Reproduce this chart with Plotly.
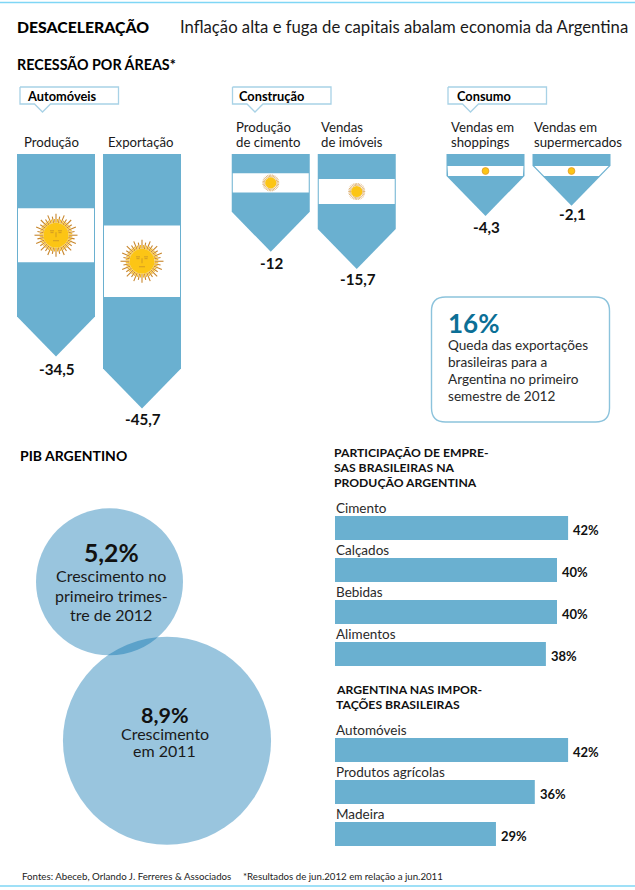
import math
import plotly.graph_objects as go

# ---------- data ----------
recession_groups = ["Automóveis", "Construção", "Consumo"]
recession_labels = [["Produção"], ["Exportação"], ["Produção", "de cimento"], ["Vendas", "de imóveis"],
                    ["Vendas em", "shoppings"], ["Vendas em", "supermercados"]]
recession_group_idx = [0, 0, 1, 1, 2, 2]
recession_values = [-34.5, -45.7, -12, -15.7, -4.3, -2.1]
recession_texts = ["-34,5", "-45,7", "-12", "-15,7", "-4,3", "-2,1"]

gdp_values = [5.2, 8.9]
gdp_texts = ["5,2%", "8,9%"]
gdp_captions = [["Crescimento no", "primeiro trimes-", "tre de 2012"], ["Crescimento", "em 2011"]]

share_categories = ["Cimento", "Calçados", "Bebidas", "Alimentos"]
share_values = [42, 40, 40, 38]
imports_categories = ["Automóveis", "Produtos agrícolas", "Madeira"]
imports_values = [42, 36, 29]

callout_value = "16%"
callout_lines = ["Queda das exportações", "brasileiras para a", "Argentina no primeiro", "semestre de 2012"]

# ---------- style ----------
W, H = 635, 890
BLUE = "#6ab0d0"
RULE = "#7fd6f5"
BOX = "#a8d2e6"
FONT = "Lato"
TXT = "#111111"
PX_PER_UNIT = 4.65      # pennant scale
Y0 = 156                # page pixel of value 0
PEN_W = 78
TIP = 40
PX_PER_PCT = 5.55
BAR_X0 = 335
LABEL_DX = [-5, -2, -35, -36, -35, -38]
VALUE_DY = [13, 10, 11, 10, 11, 8]

fig = go.Figure()


def note(text, x, y, size=14, bold=False, color=TXT, xanchor="left", xref="x", yref="y",
         xshift=0, yshift=0, font=FONT, weight=None):
    f = dict(family=font, size=size, color=color)
    if weight:
        f["weight"] = weight
    elif bold:
        f["weight"] = 700
    fig.add_annotation(text=text, x=x, y=y, xref=xref, yref=yref,
                       xanchor=xanchor, yanchor="middle", showarrow=False, xshift=xshift, yshift=yshift,
                       font=f, borderpad=0, borderwidth=0)


def to_y2(px):
    """page pixel -> pennant axis value"""
    return (Y0 - px) / PX_PER_UNIT


def sun(cx, cy, outer, inner):
    """sun emblem, in page pixels, centred on a flag band"""
    ax = []
    ay = []
    bx = []
    by = []
    n = 32
    if outer > 12:
        for i in range(n):
            a = 2 * math.pi * i / n
            r = outer if i % 2 == 0 else outer * 0.88
            ax += [cx + inner * math.cos(a), cx + r * math.cos(a), None]
            ay += [to_y2(cy + inner * math.sin(a)), to_y2(cy + r * math.sin(a)), None]
            a2 = a + math.pi / n
            bx += [cx + inner * math.cos(a2), cx + outer * 0.76 * math.cos(a2), None]
            by += [to_y2(cy + inner * math.sin(a2)), to_y2(cy + outer * 0.76 * math.sin(a2)), None]
        fig.add_trace(go.Scatter(x=ax, y=ay, yaxis="y2", mode="lines", hoverinfo="skip",
                                 line=dict(color="#c8862b", width=1.1)))
        fig.add_trace(go.Scatter(x=bx, y=by, yaxis="y2", mode="lines", hoverinfo="skip",
                                 line=dict(color="#f6b91c", width=1.1)))
    elif outer > 6:
        for i in range(n):
            a = 2 * math.pi * i / n
            ax += [cx + inner * math.cos(a), cx + outer * math.cos(a), None]
            ay += [to_y2(cy + inner * math.sin(a)), to_y2(cy + outer * math.sin(a)), None]
        fig.add_trace(go.Scatter(x=ax, y=ay, yaxis="y2", mode="lines", hoverinfo="skip",
                                 line=dict(color="#d9a55a", width=0.8)))
    fig.add_trace(go.Scatter(x=[cx], y=[to_y2(cy)], yaxis="y2", mode="markers", hoverinfo="skip",
                             marker=dict(size=inner * 2, color="#fcc515",
                                         line=dict(width=0.8 if outer <= 6 else 0, color="#e09a2a"))))
    if outer > 12:
        fx, fy = [], []
        for sx in (-1, 1):
            fx += [cx + sx * 2.0, cx + sx * 6.0, None, cx + sx * 2.5, cx + sx * 5.5, None]
            fy += [to_y2(cy - 4.4), to_y2(cy - 4.4), None, to_y2(cy - 2.6), to_y2(cy - 2.6), None]
        fx += [cx - 3, cx + 3, None, cx, cx, None]
        fy += [to_y2(cy + 5.5), to_y2(cy + 5.5), None, to_y2(cy - 3), to_y2(cy + 2), None]
        fig.add_trace(go.Scatter(x=fx, y=fy, yaxis="y2", mode="lines", hoverinfo="skip",
                                 line=dict(color="#c08a2a", width=0.7)))


# ---------- rules ----------
for ry in (2.5, 886):
    fig.add_shape(type="line", xref="x", yref="y", x0=0, x1=W, y0=ry, y1=ry,
                  line=dict(color=RULE, width=1.5), layer="above")

# ---------- headings ----------
note("DESACELERAÇÃO", 17, 26, size=15.8, weight=900, color="#000000")
note("Inflação alta e fuga de capitais abalam economia da Argentina", 180, 27, size=16.7, color="#1a1a1a")
note("RECESSÃO POR ÁREAS*", 17, 63.5, size=14.3, bold=True, color="#000000")
note("PIB ARGENTINO", 20, 455, size=14, bold=True, color="#000000")

# ---------- group callouts ----------
for g, name in enumerate(recession_groups):
    left = [20, 232.5, 448][g]
    tip = left + 22.5
    bx = [left, left + 98.5, left + 98.5, tip + 8, tip, tip - 8, left, left]
    by = [87, 87, 104, 104, 112, 104, 104, 87]
    fig.add_trace(go.Scatter(x=bx, y=by, mode="lines", fill="toself", fillcolor="white", hoverinfo="skip",
                             line=dict(color=BOX, width=1.3)))
    note(name, left + [7, 6, 9][g], 96, size=12.8, bold=True, color="#000000")

# ---------- pennants ----------
for i, v in enumerate(recession_values):
    g = recession_group_idx[i]
    cx = 56 + 86 * i + 42.75 * g
    half = PEN_W / 2
    body_end = v
    tip_v = v - TIP / PX_PER_UNIT
    top = to_y2(154)
    fig.add_trace(go.Scatter(x=[cx - half, cx + half, cx + half, cx, cx - half, cx - half],
                             y=[top, top, body_end, tip_v, body_end, top],
                             yaxis="y2", mode="lines", fill="toself", fillcolor=BLUE,
                             line=dict(width=0, color=BLUE), hoverinfo="skip"))
    # white flag band: the middle third, kept legible on short pennants
    body_px = -v * PX_PER_UNIT + 2
    band_top = 154 + max(body_px / 3, 12)
    band_h = max(body_px / 3, 10)
    band_bot = band_top + band_h
    body_end_px = Y0 - v * PX_PER_UNIT
    tip_px = body_end_px + TIP

    def hw(py):
        return min(half - 1, (half * (tip_px - py) / TIP) - 1.6)

    px_pts = [band_top, band_bot]
    if band_top < body_end_px < band_bot:
        px_pts = [band_top, body_end_px, band_bot]
    xs = [cx - hw(p) for p in px_pts] + [cx + hw(p) for p in reversed(px_pts)]
    ys = [to_y2(p) for p in px_pts] + [to_y2(p) for p in reversed(px_pts)]
    fig.add_trace(go.Scatter(x=xs + xs[:1], y=ys + ys[:1], yaxis="y2", mode="lines", fill="toself",
                             fillcolor="white", line=dict(width=0, color="white"), hoverinfo="skip"))
    scy = (band_top + band_bot) / 2
    if band_h > 40:
        sun(cx, scy, 21.5, 12.5)
    elif band_h > 15:
        sun(cx, scy, 8.5, 5.6)
    else:
        sun(cx, scy, 4, 3.4)
    # texts
    note(recession_texts[i], cx + 1, to_y2(tip_px + VALUE_DY[i]), size=15.2, bold=True, xanchor="center", yref="y2")
    lines = recession_labels[i]
    for k, t in enumerate(reversed(lines)):
        if len(lines) > 1:
            note(t, cx + LABEL_DX[i], 142 - 15.5 * k, size=13.2, color="#1a1a1a")
        else:
            note(t, cx + LABEL_DX[i], 142, size=13.2, color="#1a1a1a", xanchor="center")

# ---------- 16% box ----------
x0, x1, y0, y1, r = 431.5, 609.5, 297, 422, 14
fig.add_shape(type="path", xref="x", yref="y",
              path=f"M {x0+r} {y0} L {x1-r} {y0} Q {x1} {y0} {x1} {y0+r} L {x1} {y1-r} Q {x1} {y1} {x1-r} {y1} "
                   f"L {x0+r} {y1} Q {x0} {y1} {x0} {y1-r} L {x0} {y0+r} Q {x0} {y0} {x0+r} {y0} Z",
              line=dict(color="#8cc3dc", width=1.4), fillcolor="rgba(0,0,0,0)")
note(callout_value, 448, 323, size=26, bold=True, color="#0c6f96")
for k, t in enumerate(callout_lines):
    note(t, 447.5, 345 + 17 * k, size=13.6, color="#2a2a2a")

# ---------- GDP circles ----------
gdp_x = [109.5, 167]
gdp_y = [581.8, 740.8]
gdp_size = [147 * (v / gdp_values[0]) ** 0.647 for v in gdp_values]
fig.add_trace(go.Scatter(x=gdp_x, y=gdp_y, mode="markers", hoverinfo="skip",
                         marker=dict(size=gdp_size, sizemode="diameter", color="rgb(0,110,172)", opacity=0.4,
                                     line=dict(width=0))))
note(gdp_texts[0], 111, 552.5, size=24.7, bold=True, xanchor="center")
for k, t in enumerate(gdp_captions[0]):
    note(t, 111, [575, 595, 614][k], size=16, xanchor="center", color="#1a1a1a")
note(gdp_texts[1], 164.5, 715, size=21.5, bold=True, xanchor="center")
for k, t in enumerate(gdp_captions[1]):
    note(t, 164.5, 733 + 17.7 * k, size=16, xanchor="center", color="#1a1a1a")


# ---------- bars ----------
def bars(cats, vals, yaxis, yref):
    fig.add_trace(go.Bar(x=vals, y=cats, orientation="h", xaxis="x2", yaxis=yaxis, width=24 / 42,
                         marker=dict(color=BLUE, line=dict(width=0)), hoverinfo="skip"))
    for c, v in zip(cats, vals):
        note(c, 0, c, xref="x2", yref=yref, size=13.5, color="#2a2a2a", xshift=1, yshift=20.5)
        note(f"{v}%", v, c, xref="x2", yref=yref, size=13, bold=True, xshift=5, yshift=-2)


bars(share_categories, share_values, "y3", "y3")
bars(imports_categories, imports_values, "y4", "y4")

for k, t in enumerate(["PARTICIPAÇÃO DE EMPRE-", "SAS BRASILEIRAS NA", "PRODUÇÃO ARGENTINA"]):
    note(t, 334, 452 + 15 * k, size=12.2, bold=True, color="#111111")
for k, t in enumerate(["ARGENTINA NAS IMPOR-", "TAÇÕES BRASILEIRAS"]):
    note(t, 336, 689 + 15 * k, size=12.2, bold=True, color="#111111")

# ---------- footer ----------
note("Fontes: Abeceb, Orlando J. Ferreres & Associados", 22, 876, size=9.7, color="#222222")
note("*Resultados de jun.2012 em relação a jun.2011", 243, 876, size=9.7, color="#222222")

# ---------- layout ----------
hidden = dict(visible=False, fixedrange=True, showgrid=False, zeroline=False)
fig.update_layout(
    width=W, height=H, margin=dict(l=0, r=0, t=0, b=0, pad=0), showlegend=False,
    paper_bgcolor="white", plot_bgcolor="rgba(0,0,0,0)", barmode="overlay",
    xaxis=dict(hidden, range=[0, W], domain=[0, 1]),
    yaxis=dict(hidden, range=[H, 0], domain=[0, 1]),
    yaxis2=dict(hidden, range=[to_y2(H), to_y2(0)], domain=[0, 1], anchor="x", overlaying="y"),
    xaxis2=dict(hidden, range=[-BAR_X0 / PX_PER_PCT, (W - BAR_X0) / PX_PER_PCT], domain=[0, 1], anchor="y3"),
    yaxis3=dict(hidden, type="category", categoryorder="array", categoryarray=share_categories,
                autorange=False, range=[3.5, -0.5], domain=[1 - 675 / H, 1 - 507 / H], anchor="x2"),
    yaxis4=dict(hidden, type="category", categoryorder="array", categoryarray=imports_categories,
                autorange=False, range=[2.5, -0.5], domain=[1 - 855 / H, 1 - 729 / H], anchor="x2"),
)
fig.write_html("out.html", config={"displayModeBar": False},
               post_script="document.body.style.margin='0';document.body.style.overflow='hidden';")
